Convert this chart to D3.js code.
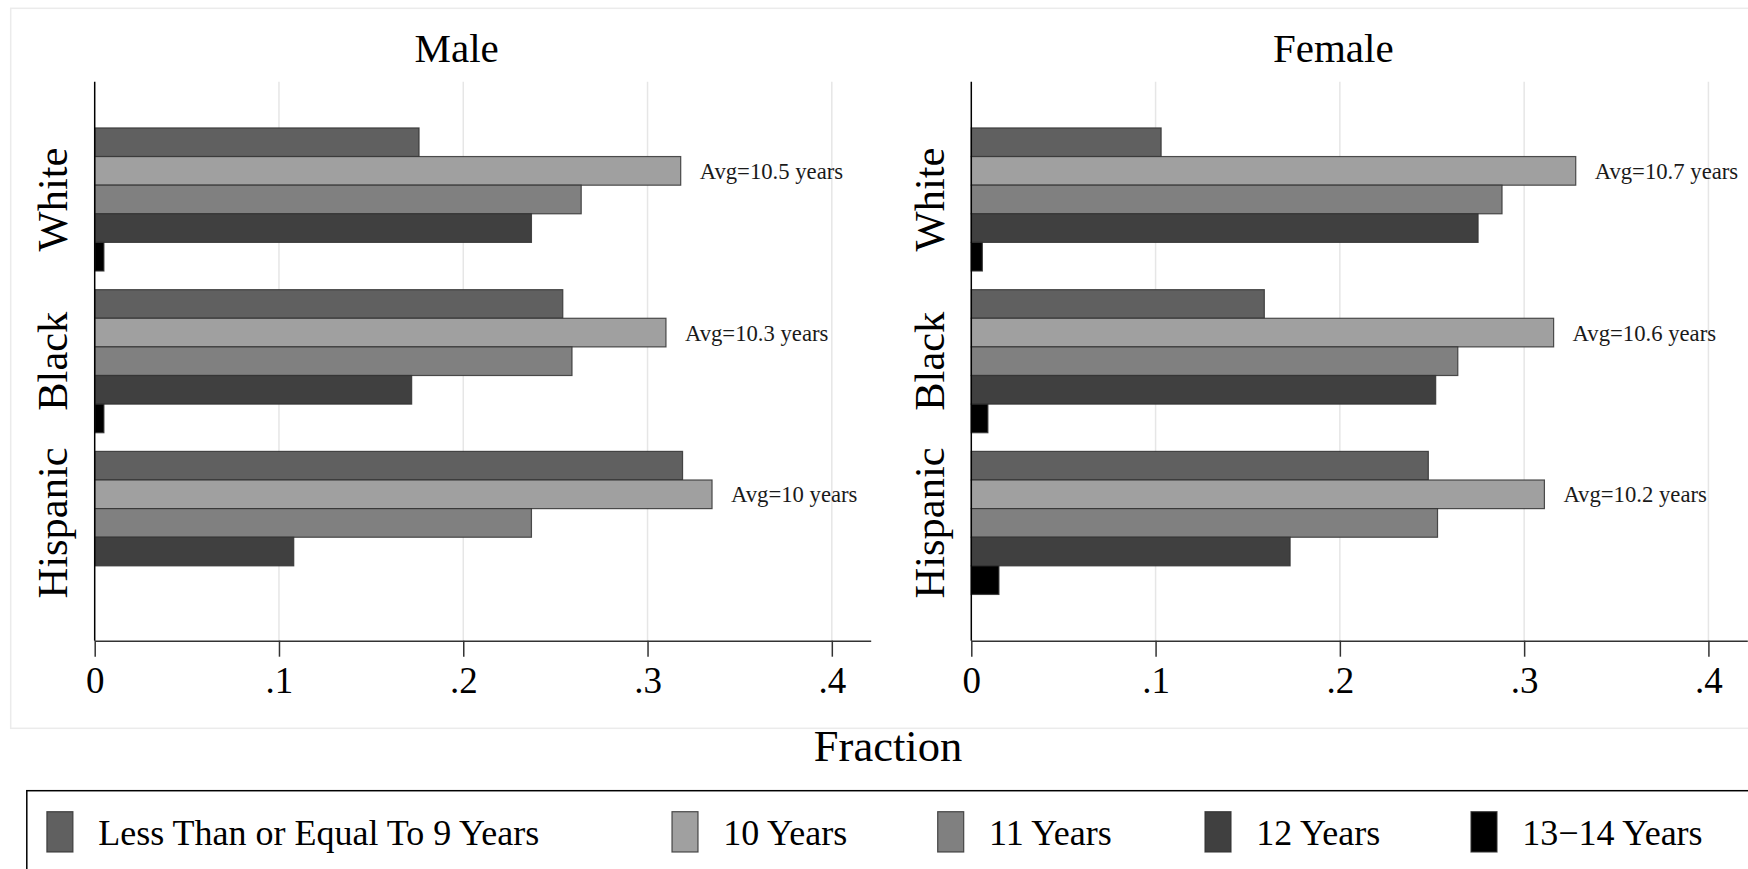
<!DOCTYPE html>
<html>
<head>
<meta charset="utf-8">
<script src="https://cdn.jsdelivr.net/npm/d3@7"></script>
<style>
  html, body { margin: 0; padding: 0; background: #fff; }
  svg { display: block; }
  text { font-family: "Liberation Serif", "Times New Roman", serif; fill: #000; }
</style>
</head>
<body>
<svg id="chart" width="1748" height="869"></svg>
<script>
// ---------- data ----------
const categories = ["Less Than or Equal To 9 Years", "10 Years", "11 Years", "12 Years", "13\u221214 Years"];
const groups = ["White", "Black", "Hispanic"];
const panels = ["Male", "Female"];

const maleWhite    = [0.176, 0.318, 0.264, 0.237, 0.005];
const maleBlack    = [0.254, 0.310, 0.259, 0.172, 0.005];
const maleHispanic = [0.319, 0.335, 0.237, 0.108, 0.000];

const femaleWhite    = [0.103, 0.328, 0.288, 0.275, 0.006];
const femaleBlack    = [0.159, 0.316, 0.264, 0.252, 0.009];
const femaleHispanic = [0.248, 0.311, 0.253, 0.173, 0.015];

const avgMale   = ["Avg=10.5 years", "Avg=10.3 years", "Avg=10 years"];
const avgFemale = ["Avg=10.7 years", "Avg=10.6 years", "Avg=10.2 years"];

const xTicks = [0, 0.1, 0.2, 0.3, 0.4];
const xTickLabels = ["0", ".1", ".2", ".3", ".4"];
const xTitle = "Fraction";

const colors = ["#606060", "#a0a0a0", "#808080", "#404040", "#000000"];

// ---------- layout ----------
const panelData = [
  { name: panels[0], values: [maleWhite, maleBlack, maleHispanic], avg: avgMale, x0: 94.7 },
  { name: panels[1], values: [femaleWhite, femaleBlack, femaleHispanic], avg: avgFemale, x0: 971.3 }
];
const panelWidth = 776;
const yTop = 81.7, yBottom = 640.7;

const svg = d3.select("#chart");

// outer (graph region) box
svg.append("rect")
  .attr("x", 10.7).attr("y", 8.3).attr("width", 1800).attr("height", 720)
  .attr("fill", "none").attr("stroke", "#ebebeb").attr("stroke-width", 1.5);

const yBand = d3.scaleBand().domain(groups).range([yTop, yBottom])
  .paddingInner(0.1154).paddingOuter(0.286);
const ySub = d3.scaleBand().domain(d3.range(categories.length)).range([0, yBand.bandwidth()]).padding(0);

panelData.forEach(p => {
  const x = d3.scaleLinear().domain([0, 0.4211]).range([p.x0, p.x0 + panelWidth]);
  const g = svg.append("g");

  // gridlines
  g.selectAll("line.grid").data(xTicks.filter(t => t > 0)).join("line")
    .attr("class", "grid")
    .attr("x1", d => x(d)).attr("x2", d => x(d))
    .attr("y1", yTop).attr("y2", yBottom)
    .attr("stroke", "#e6e6e6").attr("stroke-width", 1.5);

  // bars
  groups.forEach((grp, gi) => {
    const vals = p.values[gi];
    const gg = g.append("g").attr("transform", `translate(0,${yBand(grp)})`);
    gg.selectAll("rect").data(vals.map((v, i) => ({ v, i })).filter(d => d.v > 0)).join("rect")
      .attr("x", x(0))
      .attr("y", d => ySub(d.i))
      .attr("width", d => x(d.v) - x(0))
      .attr("height", ySub.bandwidth())
      .attr("fill", d => colors[d.i])
      .attr("stroke", "#333")
      .attr("stroke-opacity", 0.85)
      .attr("stroke-width", 1.2);

    // avg label next to the longest bar, aligned with "10 Years" bar
    const mx = d3.max(vals);
    gg.append("text")
      .attr("x", x(mx) + 19)
      .attr("y", ySub(1) + ySub.bandwidth() / 2)
      .attr("dy", "0.35em")
      .attr("font-size", 22.7)
      .style("fill", "#1a1a1a")
      .text(p.avg[gi]);

    // rotated group label
    g.append("text")
      .attr("transform", `translate(${p.x0 - 27.8},${yBand(grp) + yBand.bandwidth() / 2}) rotate(-90)`)
      .attr("text-anchor", "middle")
      .attr("font-size", 42.5)
      .text(grp);
  });

  // x axis
  const axis = d3.axisBottom(x).tickValues(xTicks)
    .tickFormat((d, i) => xTickLabels[i]).tickSize(16).tickPadding(10).tickSizeOuter(0);
  const ag = g.append("g").attr("transform", `translate(0,${yBottom})`).call(axis);
  ag.select(".domain").attr("stroke", "#333").attr("stroke-width", 1.5);
  ag.selectAll(".tick line").attr("stroke", "#333").attr("stroke-width", 1.5);
  ag.selectAll(".tick text")
    .attr("font-size", 37)
    .attr("font-family", "Liberation Serif, Times New Roman, serif")
    .attr("fill", "#000")
    .attr("dy", "0.71em");

  // y axis line
  g.append("line")
    .attr("x1", p.x0).attr("x2", p.x0)
    .attr("y1", yTop).attr("y2", yBottom)
    .attr("stroke", "#000").attr("stroke-width", 1.5);

  // panel title
  g.append("text")
    .attr("x", p.x0 + panelWidth / 2 - 26)
    .attr("y", 62.3)
    .attr("text-anchor", "middle")
    .attr("font-size", 41)
    .text(p.name);
});

// x axis title
svg.append("text")
  .attr("x", 888).attr("y", 761)
  .attr("text-anchor", "middle")
  .attr("font-size", 44.5)
  .text(xTitle);

// legend
svg.append("rect")
  .attr("x", 26.8).attr("y", 790.7).attr("width", 1800).attr("height", 200)
  .attr("fill", "none").attr("stroke", "#000").attr("stroke-width", 1.5);

const legendCols = [46.9, 672, 937.7, 1205, 1471];
const lg = svg.append("g");
categories.forEach((c, i) => {
  lg.append("rect")
    .attr("x", legendCols[i]).attr("y", 811.7)
    .attr("width", 26).attr("height", 40.3)
    .attr("fill", colors[i]).attr("stroke", "#333").attr("stroke-opacity", 0.85).attr("stroke-width", 1.2);
  lg.append("text")
    .attr("x", legendCols[i] + 51.3).attr("y", 845)
    .attr("font-size", 36)
    .text(c);
});
</script>
</body>
</html>
